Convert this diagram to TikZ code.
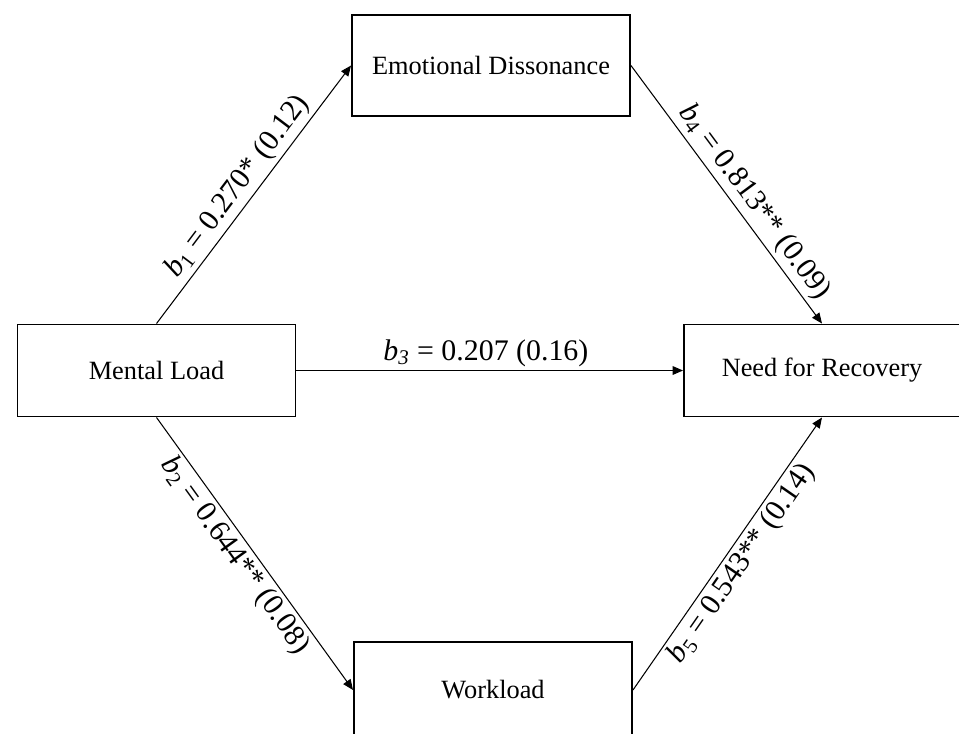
\documentclass[tikz,border=0pt]{standalone}
\usepackage{fontspec}
\setmainfont{Liberation Serif}
\usetikzlibrary{arrows.meta}

\tikzset{
  varbox/.style={draw, line width=1.1pt, minimum width=5.56cm, minimum height=1.84cm,
    inner sep=0pt, font=\fontsize{15}{18}\selectfont},
  pathline/.style={-{Triangle[length=6pt,width=5pt]}, line width=0.6pt},
  coef/.style={sloped, inner sep=2pt, font=\fontsize{17}{20}\selectfont}
}

\begin{document}
\begin{tikzpicture}
\useasboundingbox (0,0) rectangle (19.18,-14.66);

% Variables
\node[varbox] (load) at (3.13,-7.41) {Mental Load};
\node[varbox, minimum height=2.02cm] (dissonance) at (9.82,-1.31) {Emotional Dissonance};
\node[varbox, minimum width=5.52cm] (recovery) at (16.44,-7.41) {Need for Recovery};
\node[varbox, minimum height=1.92cm] (workload) at (9.86,-13.8) {Workload};

% Paths
\draw[pathline] (load.north) -- node[coef, above, pos=0.49] {\textit{b}\textsubscript{1} = 0.270* (0.12)} (dissonance.west);
\draw[pathline] (load.south) -- node[coef, below, pos=0.47] {\textit{b}\textsubscript{2} = 0.644** (0.08)} (workload.west);
\draw[pathline] (load.east) -- node[coef, above, pos=0.49] {\textit{b}\textsubscript{\textit{3}} = 0.207 (0.16)} (recovery.west);
\draw[pathline] (dissonance.east) -- node[coef, above, pos=0.57] {\textit{b}\textsubscript{4} = 0.813** (0.09)} (recovery.north);
\draw[pathline] (workload.east) -- node[coef, below, pos=0.5] {\textit{b}\textsubscript{5} = 0.543** (0.14)} (recovery.south);

\end{tikzpicture}
\end{document}
